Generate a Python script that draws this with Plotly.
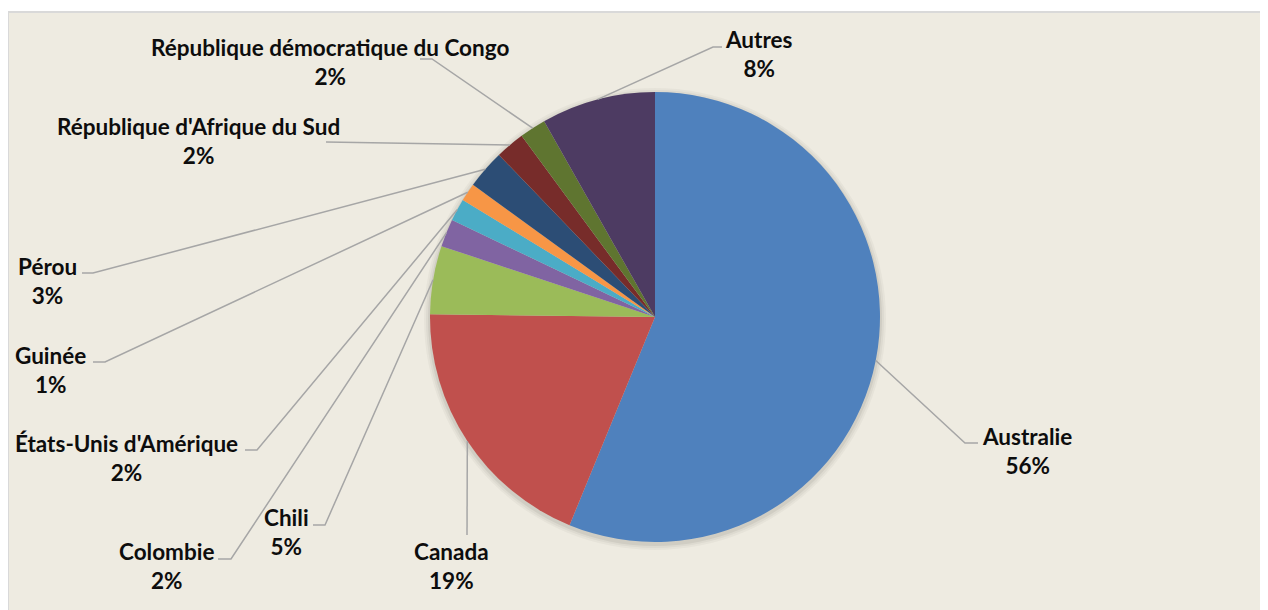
"""Pie chart of producer share by country, Excel-style leader lines."""

import math

import plotly.graph_objects as go

# --- data -------------------------------------------------------------------
countries = [
    "Australie",
    "Canada",
    "Chili",
    "Colombie",
    "États-Unis d'Amérique",
    "Guinée",
    "Pérou",
    "République d'Afrique du Sud",
    "République démocratique du Congo",
    "Autres",
]
shares = [56.2, 19.0, 4.9, 2.0, 1.6, 1.3, 2.8, 2.1, 1.9, 8.2]
colors = [
    "#4f81bd", "#c0504d", "#9bbb59", "#8064a2", "#4bacc6",
    "#f79646", "#2c4d75", "#772c2a", "#5f7530", "#4d3b62",
]

# --- layout (screen pixels; the page body adds an 8px margin) --------------
OFF = 8
W, H = 1268 - OFF, 610 - OFF
CX, CY, R = 655, 317, 225

# label block centre, and the two leader points on the label side (knee, end)
label_pos = [
    (1027, 451), (451, 566), (286, 532), (166, 566), (126, 458),
    (50, 370), (47, 281), (198, 141), (330, 62), (759, 54),
]
leader_pts = [
    [(965, 443), (978, 443)],
    [(467, 535), (467, 535)],
    [(325, 525), (313, 525)],
    [(231, 559), (218, 559)],
    [(257, 450), (245, 450)],
    [(105, 362), (93, 362)],
    [(93, 273), (82, 273)],
    [(326, 142), (326, 142)],
    [(432, 59), (420, 59)],
    [(713, 47), (722, 47)],
]

TEXT_FONT = dict(family="Lato", size=22.5, color="#0d0d0d")
LINE_COLOR = "#a6a6a6"


def px(x, y):
    """Screen pixel -> paper coordinates."""
    return (x - OFF) / W, 1 - (y - OFF) / H


dx0, dy1 = px(CX - R, CY - R)
dx1, dy0 = px(CX + R, CY + R)
fig = go.Figure(
    go.Pie(
        labels=countries,
        values=shares,
        sort=False,
        direction="clockwise",
        rotation=0,
        textinfo="none",
        hoverinfo="label+percent",
        marker=dict(colors=colors, line=dict(width=0)),
        showlegend=False,
        domain=dict(x=[dx0, dx1], y=[dy0, dy1]),
    )
)

shapes = [
    dict(
        type="rect", xref="paper", yref="paper", layer="below",
        x0=0, x1=1.01, y0=-0.01, y1=px(0, 12)[1],
        fillcolor="#eeebe1", line=dict(color="#d9d9d9", width=2),
    )
]
# soft shadow around the pie
for grow, alpha in [(6, 0.03), (4, 0.04), (2, 0.06)]:
    x0, y0 = px(CX - R - grow, CY - R - grow + 2)
    x1, y1 = px(CX + R + grow, CY + R + grow + 2)
    shapes.append(
        dict(
            type="circle", xref="paper", yref="paper", layer="below",
            x0=x0, x1=x1, y0=y1, y1=y0,
            fillcolor=f"rgba(0,0,0,{alpha})", line=dict(width=0),
        )
    )

total = sum(shares)
annotations = []
cum = 0.0
for name, val, (lx, ly), (knee, end) in zip(countries, shares, label_pos, leader_pts):
    mid = (cum + val / 2) / total * 2 * math.pi
    cum += val
    ex, ey = CX + R * math.sin(mid), CY - R * math.cos(mid)
    pts = [px(ex, ey), px(*knee), px(*end)]
    path = "M " + " L ".join(f"{a:.5f},{b:.5f}" for a, b in pts)
    shapes.append(
        dict(type="path", xref="paper", yref="paper", path=path,
             line=dict(color=LINE_COLOR, width=1.5))
    )
    pct = round(val / total * 100)
    ax, ay = px(lx, ly)
    annotations.append(
        dict(
            x=ax, y=ay, xref="paper", yref="paper",
            text=f"<b>{name}</b><br><b>{pct}%</b>",
            showarrow=False, xanchor="center", yanchor="middle",
            align="center", font=TEXT_FONT,
        )
    )

fig.update_layout(
    width=W,
    height=H,
    margin=dict(l=0, r=0, t=0, b=0),
    paper_bgcolor="white",
    plot_bgcolor="white",
    shapes=shapes,
    annotations=annotations,
)

fig.write_html("out.html")
